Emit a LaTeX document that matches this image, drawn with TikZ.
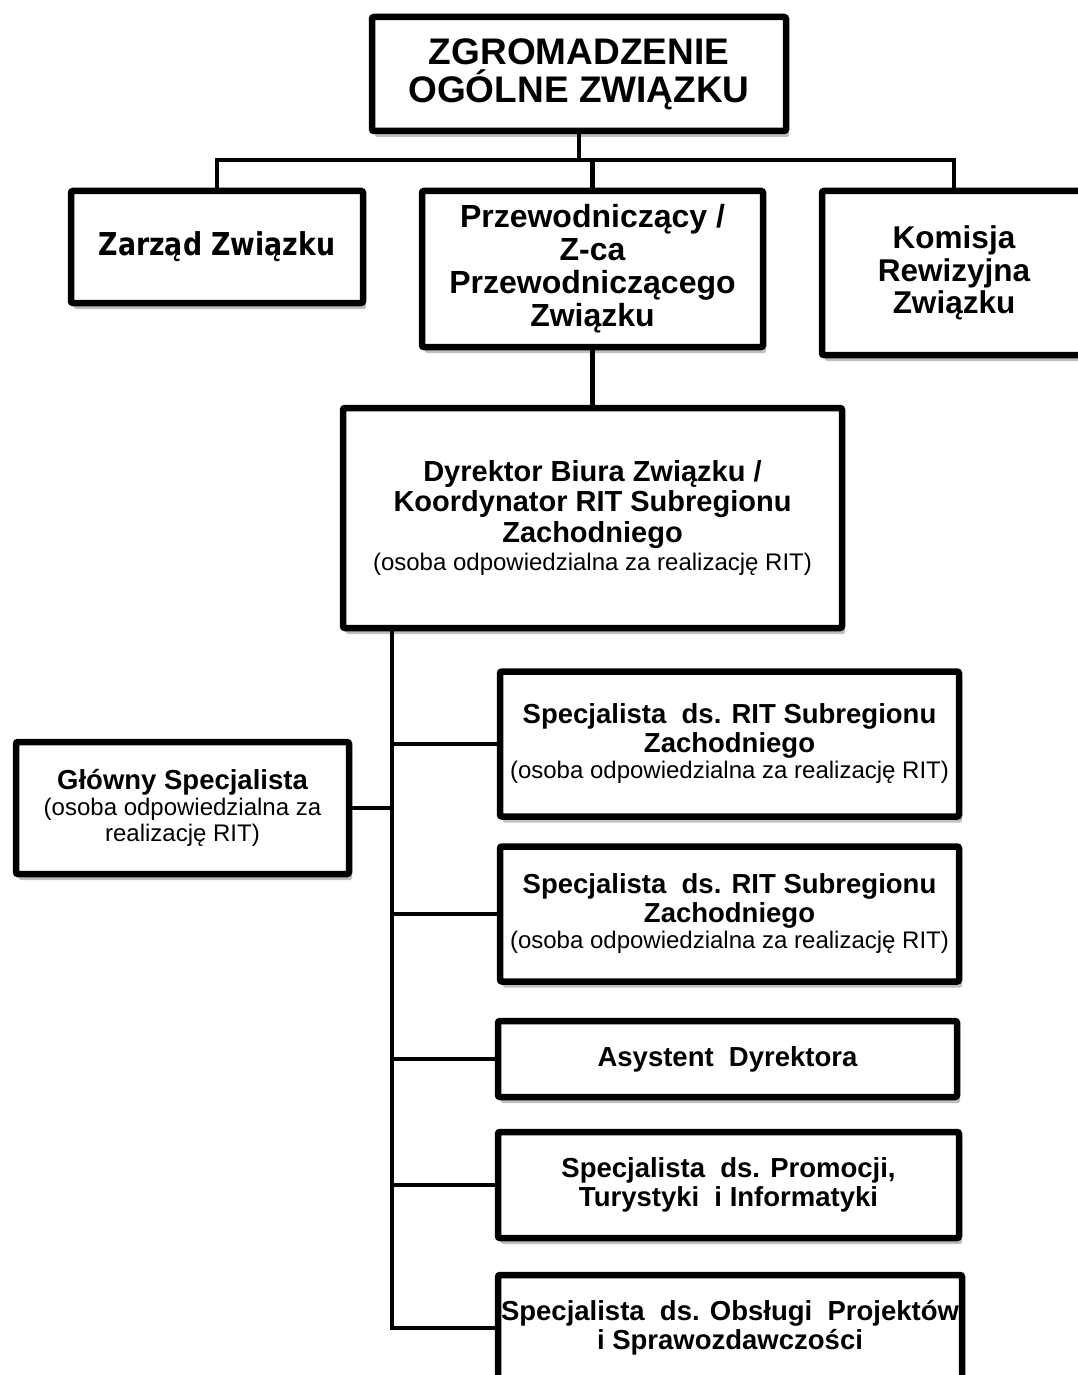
\documentclass[tikz,border=0pt]{standalone}
\usepackage{fontspec}
\setmainfont{Liberation Sans}
\newfontfamily\tahfont[FakeStretch=0.85]{DejaVu Sans}
\usetikzlibrary{shadows}

\tikzset{
  box/.style={draw=black, line width=6.5pt, fill=white, rounded corners=2pt,
    align=center, inner sep=0pt,
    drop shadow={shadow xshift=3pt, shadow yshift=-6pt, fill=black!50, opacity=0.5},
    font=\bfseries\fontsize{27.5}{29}\selectfont},
  link/.style={line width=4.5pt, line join=miter, line cap=rect},
}
\newcommand{\subnote}[1]{{\mdseries\fontsize{24}{26}\selectfont #1}}

\begin{document}
\begin{tikzpicture}[x=1pt, y=-1pt]
\useasboundingbox (0,0) rectangle (1077,1375);

% governing bodies
\node[box, minimum width=414pt, minimum height=114pt,
      font=\bfseries\fontsize{37}{38}\selectfont] (zgr) at (579,74)
  {ZGROMADZENIE\\OGÓLNE ZWIĄZKU};
\node[box, minimum width=292pt, minimum height=112pt,
      font=\tahfont\bfseries\fontsize{31.5}{33}\selectfont] (zarzad) at (217,247)
  {Zarząd Związku};
\node[box, minimum width=341pt, minimum height=156pt,
      font=\bfseries\fontsize{32}{33}\selectfont] (przew) at (592.5,269)
  {Przewodniczący /\\Z-ca\\Przewodniczącego\\Związku};
\node[box, minimum width=264pt, minimum height=164pt,
      font=\bfseries\fontsize{31.5}{32.5}\selectfont] (komisja) at (954,273)
  {Komisja\\Rewizyjna\\Związku};

% office director
\node[box, minimum width=499pt, minimum height=220pt,
      font=\bfseries\fontsize{29}{30.5}\selectfont] (dyr) at (592.5,518)
  {Dyrektor Biura Związku /\\Koordynator RIT Subregionu\\Zachodniego\\[-2pt]
   \subnote{(osoba odpowiedzialna za realizację RIT)}};

% office staff
\node[box, minimum width=333pt, minimum height=132pt] (glowny) at (182.5,808)
  {Główny Specjalista\\[-3pt]\subnote{(osoba odpowiedzialna za}\\[-3pt]
   \subnote{realizację RIT)}};
\node[box, minimum width=459pt, minimum height=145pt] (spec1) at (729.5,744)
  {Specjalista\ \ ds. RIT Subregionu\\Zachodniego\\[-3pt]
   \subnote{(osoba odpowiedzialna za realizację RIT)}};
\node[box, minimum width=459pt, minimum height=135pt] (spec2) at (729.5,914)
  {Specjalista\ \ ds. RIT Subregionu\\Zachodniego\\[-3pt]
   \subnote{(osoba odpowiedzialna za realizację RIT)}};
\node[box, minimum width=459pt, minimum height=76pt] (asyst) at (727.5,1059)
  {Asystent\ \ Dyrektora};
\node[box, minimum width=461pt, minimum height=106pt] (promo) at (728.5,1185)
  {Specjalista\ \ ds. Promocji,\\Turystyki\ \ i Informatyki};
\node[box, minimum width=464pt, minimum height=106pt] (obsl) at (730,1328)
  {Specjalista\ \ ds. Obsługi\ \ Projektów\\i Sprawozdawczości};

% connectors
\coordinate (bus) at (579,160);
\draw[link] (zgr.south) -- (zgr.south |- bus);
\draw[link] (zarzad.north) -- (zarzad.north |- bus) -| (komisja.north);
\draw[link] (przew.north) -- (przew.north |- bus);
\draw[link] (przew.south) -- (dyr.north);

\path (dyr.south) ++(-200.5,0) coordinate (trunk);
\draw[link] (trunk) |- (obsl.west);
\draw[link] (glowny.east) -- (glowny.east -| trunk);
\draw[link] (spec1.west) -- (spec1.west -| trunk);
\draw[link] (spec2.west) -- (spec2.west -| trunk);
\draw[link] (asyst.west) -- (asyst.west -| trunk);
\draw[link] (promo.west) -- (promo.west -| trunk);
\end{tikzpicture}
\end{document}
